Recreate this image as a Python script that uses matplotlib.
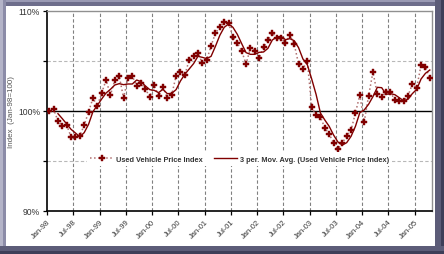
import matplotlib
matplotlib.use("Agg")
import matplotlib.pyplot as plt
import numpy as np
import pandas as pd
from matplotlib.patches import Rectangle

plt.rcParams["font.family"] = ["Liberation Sans", "DejaVu Sans"]

# Used Vehicle Price Index, monthly Jan-98 .. Apr-05
index_values = [
    100.0, 100.2, 99.0, 98.5, 98.6, 97.4, 97.4, 97.5, 98.6, 99.9, 101.3, 100.5,
    101.8, 103.1, 101.6, 103.1, 103.5, 101.3, 103.3, 103.5, 102.5, 102.8, 102.2, 101.4,
    102.6, 101.5, 102.4, 101.3, 101.6, 103.5, 103.9, 103.6, 105.1, 105.5, 105.8, 104.8,
    105.1, 106.5, 107.8, 108.4, 108.9, 108.8, 107.4, 106.8, 106.0, 104.7, 106.3, 106.0,
    105.3, 106.4, 107.1, 107.8, 107.3, 107.3, 106.8, 107.6, 106.7, 104.7, 104.2, 105.0,
    100.4, 99.6, 99.4, 98.3, 97.7, 96.8, 96.2, 96.8, 97.5, 98.1, 99.8, 101.6,
    98.9, 101.5, 103.9, 101.7, 101.4, 101.9, 101.9, 101.1, 101.0, 101.0, 101.5, 102.7,
    102.3, 104.6, 104.4, 103.3,
]
tick_labels = ["Jan-98", "Jul-98", "Jan-99", "Jul-99", "Jan-00", "Jul-00", "Jan-01",
               "Jul-01", "Jan-02", "Jul-02", "Jan-03", "Jul-03", "Jan-04", "Jul-04", "Jan-05"]
series_name = "Used Vehicle Price Index"

months = np.arange(len(index_values)) + 0.5
moving_avg = pd.Series(index_values).rolling(3).mean()

fig = plt.figure(figsize=(4.44, 2.55), dpi=100)
fig.patch.set_facecolor("white")

# beveled frame
W, H = 444, 255
def px_rect(x0, y0, w, h, color):
    fig.patches.append(Rectangle((x0 / W, 1 - (y0 + h) / H), w / W, h / H,
                                 transform=fig.transFigure, facecolor=color,
                                 edgecolor="none", zorder=-5))

px_rect(0, 0, W, 7, "#6e6e8c")
px_rect(0, 0, W, 3, "#9a9ab4")
px_rect(0, 0, 6, H, "#8c8ca8")
px_rect(0, 0, 3, H, "#b4b4c8")
px_rect(435, 0, 9, H, "#5c5c78")
px_rect(441, 0, 3, H, "#3e3e58")
px_rect(0, 247, W, 8, "#5c5c78")
px_rect(0, 252, W, 3, "#3e3e58")

ax = fig.add_axes([47 / W, 1 - 212 / H, (432 - 47) / W, 200 / H])

ax.plot(months, index_values, linestyle=":", color="#b07070", lw=1.1,
        marker="P", markersize=4.3, markerfacecolor="#800000", markeredgecolor="#800000",
        markeredgewidth=0.3, label=series_name, zorder=3)
ax.plot(months, moving_avg, color="#800000", lw=1.0,
        label="3 per. Mov. Avg. (" + series_name + ")", zorder=4)

ax.set_xlim(0, len(index_values))
ax.set_ylim(90, 110)
xt = np.arange(len(tick_labels)) * 6
ax.set_xticks(xt)
ax.set_xticklabels(tick_labels, rotation=45, ha="right", rotation_mode="anchor",
                   fontsize=5.5, color="#333333")
ax.set_yticks([90, 95, 100, 105, 110])
ax.set_yticklabels(["90%", "", "100%", "", "110%"], fontsize=6.2, color="#333333")
ax.tick_params(axis="both", direction="out", length=3, width=0.9, pad=2)

for x in xt[1:]:
    ax.axvline(x, color="#808080", lw=0.8, ls=(0, (3, 2)), zorder=1)
for y in (95, 105):
    ax.axhline(y, color="#b8b8b8", lw=0.8, ls=(0, (3, 2)), zorder=1)
ax.axhline(100, color="black", lw=1.0, zorder=2)

for s in ("top", "right"):
    ax.spines[s].set_color("#909090")
    ax.spines[s].set_linewidth(1.0)
for s in ("left", "bottom"):
    ax.spines[s].set_color("black")
    ax.spines[s].set_linewidth(1.2)

ax.set_ylabel("Index  (Jan-98=100)", fontsize=5.8, color="#555555")
ax.yaxis.set_label_coords(-0.082, 0.5)

leg = ax.legend(loc="center", bbox_to_anchor=(0.5, 0.26), ncol=2, frameon=True,
                fontsize=5.3, handlelength=3.2, columnspacing=1.5, borderpad=0.4,
                handletextpad=0.3)
leg.get_frame().set_edgecolor("none")
leg.get_frame().set_facecolor("white")
leg.get_frame().set_alpha(1)
for t in leg.get_texts():
    t.set_fontweight("bold")
    t.set_color("#333333")

fig.savefig("out.png", dpi=100)
